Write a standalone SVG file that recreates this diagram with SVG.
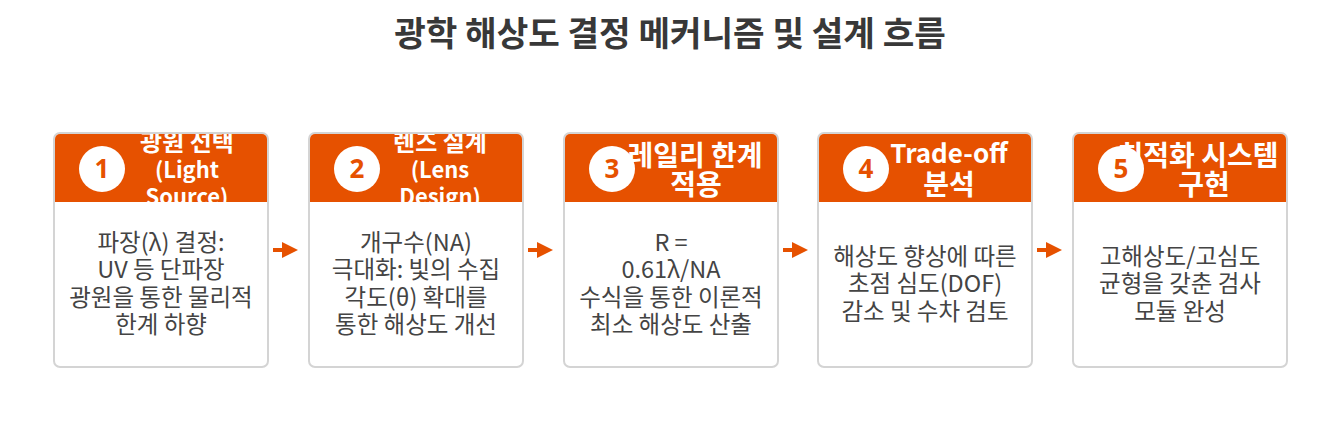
<svg xmlns="http://www.w3.org/2000/svg" width="1341" height="424" viewBox="0 0 1341 424">
<style>
.title{font-family:"Noto Sans CJK KR","Noto Sans",sans-serif;font-size:34.3px;font-weight:bold;fill:#383838;text-anchor:middle}
.card{fill:#fff;stroke:#d4d4d4;stroke-width:2}
.hdr{fill:#E65100}
.htxt{font-family:"Noto Sans CJK KR","Noto Sans",sans-serif;font-size:26px;font-weight:bold;fill:#fff;text-anchor:middle}
.hk{font-size:28px}
.hs{font-size:22px}
.hsk{font-size:24px}
.circ{fill:#fff}
.num{font-family:"Noto Sans","Noto Sans CJK KR",sans-serif;font-size:26px;font-weight:bold;fill:#E65100;text-anchor:middle}
.body{font-family:"Noto Sans CJK KR","Noto Sans",sans-serif;font-size:23.5px;fill:#444;text-anchor:middle}
.conn line{stroke:#E65100;stroke-width:4}
.conn polygon{fill:#E65100}
</style>
<defs>
<clipPath id="c1"><rect x="55" y="134" width="212" height="68"/></clipPath>
<clipPath id="c2"><rect x="310" y="134" width="212" height="68"/></clipPath>
<clipPath id="c3"><rect x="565" y="134" width="212" height="68"/></clipPath>
<clipPath id="c4"><rect x="819" y="134" width="212" height="68"/></clipPath>
<clipPath id="c5"><rect x="1074" y="134" width="212" height="68"/></clipPath>
</defs>
<rect width="1341" height="424" fill="#fff"/>
<text class="title" x="670" y="46">광학 해상도 결정 메커니즘 및 설계 흐름</text>

<g id="node1">
<rect class="card" x="54" y="133" width="214" height="234" rx="6"/>
<path class="hdr" d="M55,139 a5,5 0 0 1 5,-5 h202 a5,5 0 0 1 5,5 v63 h-212 z"/>
<g clip-path="url(#c1)">
<text class="htxt hsk" x="187" y="151">광원 선택</text>
<text class="htxt hs" x="187" y="178">(Light</text>
<text class="htxt hs" x="187" y="205">Source)</text>
</g>
<circle class="circ" cx="102" cy="169" r="23"/>
<text class="num" x="102" y="178">1</text>
<text class="body" x="161" y="251">파장(λ) 결정:</text>
<text class="body" x="161" y="278">UV 등 단파장</text>
<text class="body" x="161" y="306">광원을 통한 물리적</text>
<text class="body" x="161" y="333">한계 하향</text>
</g>

<g id="node2">
<rect class="card" x="309" y="133" width="214" height="234" rx="6"/>
<path class="hdr" d="M310,139 a5,5 0 0 1 5,-5 h202 a5,5 0 0 1 5,5 v63 h-212 z"/>
<g clip-path="url(#c2)">
<text class="htxt hsk" x="440" y="151">렌즈 설계</text>
<text class="htxt hs" x="440" y="178">(Lens</text>
<text class="htxt hs" x="440" y="205">Design)</text>
</g>
<circle class="circ" cx="357" cy="169" r="23"/>
<text class="num" x="357" y="178">2</text>
<text class="body" x="416" y="251">개구수(NA)</text>
<text class="body" x="416" y="278">극대화: 빛의 수집</text>
<text class="body" x="416" y="306">각도(θ) 확대를</text>
<text class="body" x="416" y="333">통한 해상도 개선</text>
</g>

<g id="node3">
<rect class="card" x="564" y="133" width="214" height="234" rx="6"/>
<path class="hdr" d="M565,139 a5,5 0 0 1 5,-5 h202 a5,5 0 0 1 5,5 v63 h-212 z"/>
<g clip-path="url(#c3)">
<text class="htxt hk" x="695" y="166">레일리 한계</text>
<text class="htxt hk" x="696" y="195">적용</text>
</g>
<circle class="circ" cx="612" cy="169" r="23"/>
<text class="num" x="612" y="178">3</text>
<text class="body" x="671" y="251">R =</text>
<text class="body" x="671" y="278">0.61λ/NA</text>
<text class="body" x="671" y="306">수식을 통한 이론적</text>
<text class="body" x="671" y="333">최소 해상도 산출</text>
</g>

<g id="node4">
<rect class="card" x="818" y="133" width="214" height="234" rx="6"/>
<path class="hdr" d="M819,139 a5,5 0 0 1 5,-5 h202 a5,5 0 0 1 5,5 v63 h-212 z"/>
<g clip-path="url(#c4)">
<text class="htxt" x="949" y="163">Trade-off</text>
<text class="htxt hk" x="949" y="195">분석</text>
</g>
<circle class="circ" cx="866" cy="169" r="23"/>
<text class="num" x="866" y="178">4</text>
<text class="body" x="925" y="265">해상도 향상에 따른</text>
<text class="body" x="925" y="292">초점 심도(DOF)</text>
<text class="body" x="925" y="320">감소 및 수차 검토</text>
</g>

<g id="node5">
<rect class="card" x="1073" y="133" width="214" height="234" rx="6"/>
<path class="hdr" d="M1074,139 a5,5 0 0 1 5,-5 h202 a5,5 0 0 1 5,5 v63 h-212 z"/>
<g clip-path="url(#c5)">
<text class="htxt hk" x="1198" y="166">최적화 시스템</text>
<text class="htxt hk" x="1204" y="195">구현</text>
</g>
<circle class="circ" cx="1121" cy="169" r="23"/>
<text class="num" x="1121" y="178">5</text>
<text class="body" x="1180" y="265">고해상도/고심도</text>
<text class="body" x="1180" y="292">균형을 갖춘 검사</text>
<text class="body" x="1180" y="320">모듈 완성</text>
</g>

<g id="connectors" class="conn">
<line x1="273" y1="250" x2="285" y2="250"/><polygon points="282,242 298,250 282,258"/>
<line x1="528" y1="250" x2="540" y2="250"/><polygon points="537,242 553,250 537,258"/>
<line x1="783" y1="250" x2="795" y2="250"/><polygon points="792,242 808,250 792,258"/>
<line x1="1037" y1="250" x2="1049" y2="250"/><polygon points="1046,242 1062,250 1046,258"/>
</g>
</svg>
